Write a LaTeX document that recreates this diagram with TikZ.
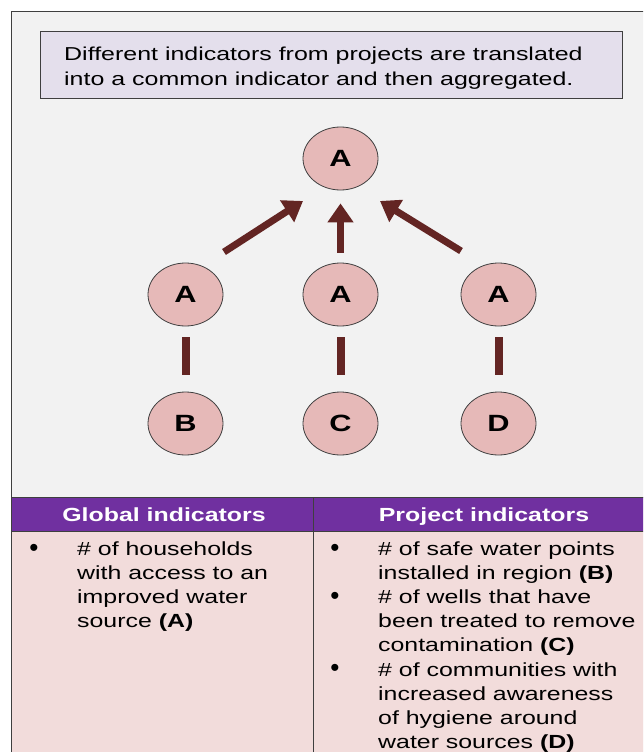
\documentclass[tikz,border=0pt]{standalone}
\usepackage{fontspec}
\setmainfont{Liberation Sans}
\newfontfamily\wide[FakeStretch=1.31]{Liberation Sans}
\newfontfamily\capwide[FakeStretch=1.335]{Liberation Sans}
\usetikzlibrary{shapes.geometric,arrows.meta}
\definecolor{outerbg}{HTML}{F2F2F2}
\definecolor{edge}{HTML}{3F3F3F}
\definecolor{lav}{HTML}{E4DFEC}
\definecolor{oval}{HTML}{E6B9B8}
\definecolor{arr}{HTML}{632523}
\definecolor{head}{HTML}{7030A0}
\definecolor{body}{HTML}{F2DCDB}
\tikzset{
  x=1pt, y=-1pt,
  ovalnode/.style={ellipse, draw=edge, line width=0.8pt, fill=oval, minimum width=75pt, minimum height=63pt, inner sep=0pt,
     font=\wide\fontsize{23.5}{24}\selectfont\bfseries},
  uparrow/.style={draw=arr, line width=7pt, -{Triangle[width=25pt,length=19pt]}},
  bar/.style={draw=arr, line width=8pt},
  tx/.style={inner sep=0pt, anchor=base west, align=left, font=\wide\fontsize{19}{24.2}\selectfont},
  hd/.style={inner sep=0pt, anchor=base, text=white, font=\wide\fontsize{19}{24}\selectfont\bfseries},
  bul/.style={inner sep=0pt, anchor=center, font=\fontsize{26}{26}\selectfont},
}
\begin{document}
\begin{tikzpicture}
\useasboundingbox (0,0) rectangle (643,752);
\clip (0,0) rectangle (643,752);
% outer frame
\fill[white] (0,0) rectangle (643,752);
\filldraw[fill=outerbg, draw=edge, line width=1pt] (11,12) rectangle (700,800);
% caption box (text anchored at the baseline of its last line)
\filldraw[fill=lav, draw=edge, line width=1pt] (40,32) rectangle (622,98);
\node[inner sep=0pt, anchor=base west, align=left, font=\capwide\fontsize{18.7}{25}\selectfont] (cap) at (64,85.7)
  {Different indicators from projects are translated\\into a common indicator and then aggregated.};
% nodes
\node[ovalnode] (top) at (340.5,158.5) {A};
\node[ovalnode] (m1) at (185.5,294.5) {A};
\node[ovalnode] (m2) at (340.5,294.5) {A};
\node[ovalnode] (m3) at (498.5,294.5) {A};
\node[ovalnode] (b1) at (185.5,423.5) {B};
\node[ovalnode] (b2) at (340.5,423.5) {C};
\node[ovalnode] (b3) at (498.5,423.5) {D};
% arrows
\coordinate (s1) at (224,252);
\coordinate (e1) at (303,201);
\coordinate (s3) at (461,251);
\coordinate (e3) at (380,201);
\draw[uparrow] (s1) -- (e1);
\draw[uparrow, shorten <=10pt, shorten >=13pt] (m2) -- (top);
\draw[uparrow] (s3) -- (e3);
% bars
\draw[bar, shorten <=11pt, shorten >=17pt] (m1) -- (b1);
\draw[bar, shorten <=11pt, shorten >=17pt] (m2) -- (b2);
\draw[bar, shorten <=11pt, shorten >=17pt] (m3) -- (b3);
% table
\fill[head] (11,497) rectangle (700,531);
\fill[body] (11,531) rectangle (700,800);
\draw[edge, line width=1pt] (11,497) -- (700,497);
\draw[edge, line width=1pt] (11,531) -- (700,531);
\draw[edge, line width=1pt] (313,497) -- (313,800);
\draw[edge, line width=1pt] (11,12) -- (11,800);
\node[hd] (h1) at (164,521.7) {Global indicators};
\node[hd] (h2) at (484,521.7) {Project indicators};
% left column
\node[bul] (lb1) at (34,550) {\textbullet};
\node[tx] (lt1) at (77,627.6) {\# of households\\with access to an\\improved water\\source \textbf{(A)}};
% right column
\node[bul] (rb1) at (335,550) {\textbullet};
\node[tx] (rt1) at (378,579.2) {\# of safe water points\\installed in region \textbf{(B)}};
\node[bul] (rb2) at (335,598) {\textbullet};
\node[tx] (rt2) at (378,651.8) {\# of wells that have\\been treated to remove\\contamination \textbf{(C)}};
\node[bul] (rb3) at (335,670) {\textbullet};
\node[tx] (rt3) at (378,748.6) {\# of communities with\\increased awareness\\of hygiene around\\water sources \textbf{(D)}};
\end{tikzpicture}
\end{document}
